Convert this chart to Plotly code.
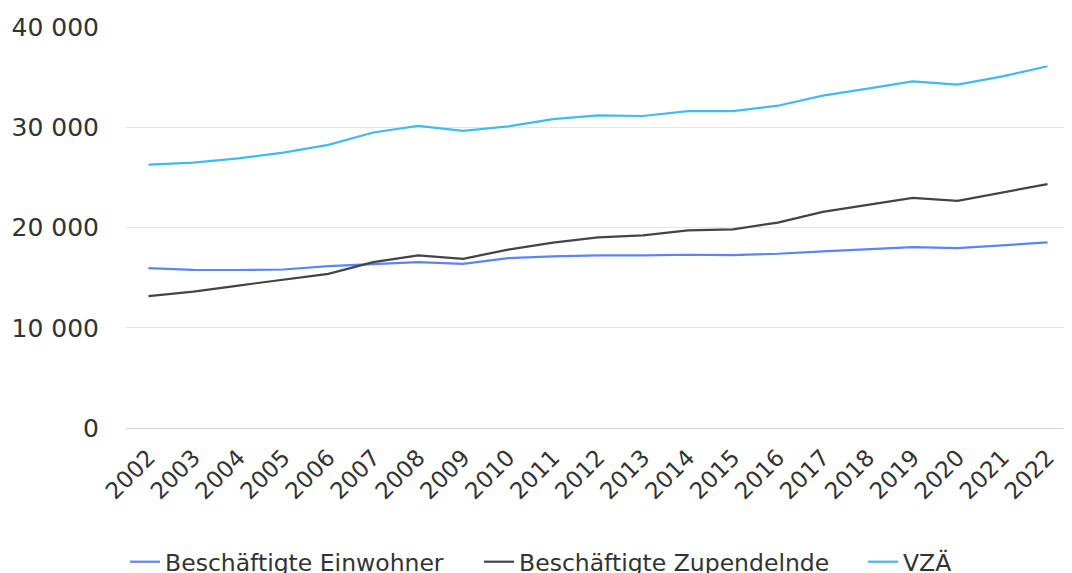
import plotly.graph_objects as go

years = [str(y) for y in range(2002, 2023)]
einwohner = [15950, 15780, 15760, 15810, 16150, 16380, 16550, 16380, 16950, 17110, 17210,
             17210, 17280, 17250, 17380, 17610, 17810, 18050, 17950, 18250, 18510]
zupendelnde = [13150, 13610, 14210, 14810, 15380, 16550, 17210, 16880, 17790, 18490, 19020,
               19220, 19720, 19820, 20490, 21560, 22290, 22960, 22660, 23460, 24330]
vza = [26280, 26470, 26900, 27470, 28240, 29480, 30140, 29640, 30080, 30810, 31180,
       31120, 31600, 31600, 32150, 33150, 33850, 34580, 34260, 35080, 36080]

series = [
    ("Beschäftigte Einwohner", einwohner, "#5b84fb", "legend"),
    ("Beschäftigte Zupendelnde", zupendelnde, "#434348", "legend2"),
    ("VZÄ", vza, "#3ebcef", "legend3"),
]

fig = go.Figure()
for name, vals, col, lg in series:
    fig.add_trace(go.Scatter(x=years, y=vals, name=name, mode="lines", legend=lg,
                             line=dict(color=col, width=2.2)))

FONT = "DejaVu Sans"
legend_common = dict(orientation="h", xanchor="left", y=-0.334, yanchor="middle",
                     font=dict(size=23.5, color="#333333", family=FONT), itemwidth=30,
                     bgcolor="rgba(0,0,0,0)")
fig.update_layout(
    width=1064, height=565,
    margin=dict(l=118, r=2, t=19, b=145, autoexpand=False),
    paper_bgcolor="white", plot_bgcolor="white",
    font=dict(family=FONT, color="#333333"),
    separators=", ",
    showlegend=True,
    legend=dict(x=-0.001, **legend_common),
    legend2=dict(x=0.374, **legend_common),
    legend3=dict(x=0.7807, **legend_common),
)
fig.update_xaxes(type="category", range=[-0.5, 20.5], automargin=False, tickangle=-45,
                 tickfont=dict(size=23, color="#333333", family=FONT),
                 showgrid=False, showline=True, linecolor="#ccd6eb", linewidth=1,
                 ticks="", ticklabelstandoff=6)
fig.update_yaxes(range=[0, 40000], dtick=10000, tickformat=",d", automargin=False,
                 tickfont=dict(size=25, color="#333333", family=FONT),
                 showgrid=True, gridcolor="#e6e6e6", gridwidth=1, zeroline=False,
                 showline=False, ticks="", ticklabelstandoff=26)

fig.write_html("out.html")
